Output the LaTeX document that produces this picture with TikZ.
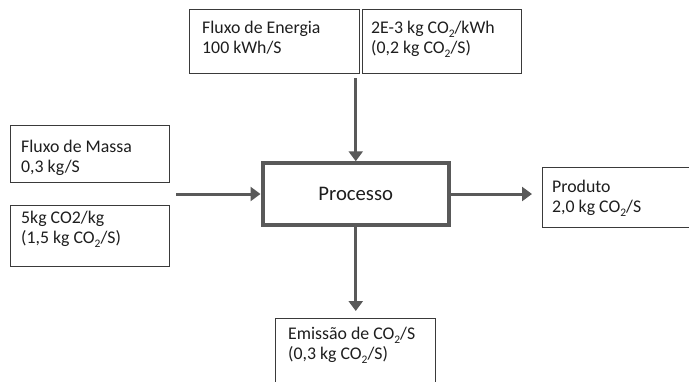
\documentclass[tikz,border=0pt]{standalone}
\usepackage{fontspec}
\setmainfont{Carlito}
\usetikzlibrary{arrows.meta}
\definecolor{arrowgray}{HTML}{595959}
\definecolor{boxline}{HTML}{3A3A3A}
\definecolor{txtcol}{HTML}{1E1E1E}
\newcommand{\cotwo}{CO\raisebox{-4pt}{\fontsize{11.5}{11.5}\selectfont 2}}
\newcommand{\fl}{\rule{0pt}{14pt}}
\begin{document}
\begin{tikzpicture}[x=1pt,y=-1pt,
  box/.style={draw=boxline,line width=1pt,anchor=north west,inner sep=0pt,fill=white},
  txt/.style={anchor=north west,inner sep=0pt,align=left,text=txtcol,font=\fontsize{17.8}{20}\selectfont},
  arr/.style={draw=arrowgray,line width=3pt,-{Triangle[length=10pt,width=14pt]}},
  procbox/.style={draw=arrowgray,line width=4pt,fill=white,inner sep=0pt,text=txtcol,font=\fontsize{20.7}{24}\selectfont}]
\clip (0,0) rectangle (689,381);
\fill[white] (0,0) rectangle (689,381);
% boxes
\node[box,minimum width=170pt,minimum height=64pt] (en) at (189,9) {};
\node[box,minimum width=159pt,minimum height=64pt] (co) at (362,9) {};
\node[box,minimum width=159pt,minimum height=57pt] (ma) at (10,125) {};
\node[box,minimum width=159pt,minimum height=61pt] (kg) at (10,205) {};
\node[box,minimum width=160pt,minimum height=60pt] (pr) at (542,167) {};
\node[box,minimum width=160pt,minimum height=80pt] (em) at (275,318) {};
\node[procbox,minimum width=186.5pt,minimum height=61.5pt] (proc) at (355.75,194) {\raisebox{-2pt}{Processo}};
% texts
\node[txt] (entxt) at (202,19.5) {\fl Fluxo de Energia\\100 kWh/S};
\node[txt] (cotxt) at (371,19.5) {\fl 2E-3 kg \cotwo/kWh\\(0,2 kg \cotwo/S)};
\node[txt] (matxt) at (21,138) {\fl Fluxo de Massa\\0,3 kg/S};
\node[txt] (kgtxt) at (21,209) {\fl 5kg CO2/kg\\(1,5 kg \cotwo/S)};
\node[txt] (prtxt) at (552,178) {\fl Produto\\2,0 kg \cotwo/S};
\node[txt] (emtxt) at (288,325) {\fl Emissão de \cotwo/S\\(0,3 kg \cotwo/S)};
% connectors
\coordinate (atop) at (355.75,78);
\coordinate (ain) at (176,194);
\coordinate (aout) at (532,194);
\coordinate (adown) at (355.75,311);
\draw[arr] (atop) -- (proc.north);
\draw[arr] (ain) -- (proc.west);
\draw[arr] (proc.east) -- (aout);
\draw[arr] (proc.south) -- (adown);
\end{tikzpicture}
\end{document}
